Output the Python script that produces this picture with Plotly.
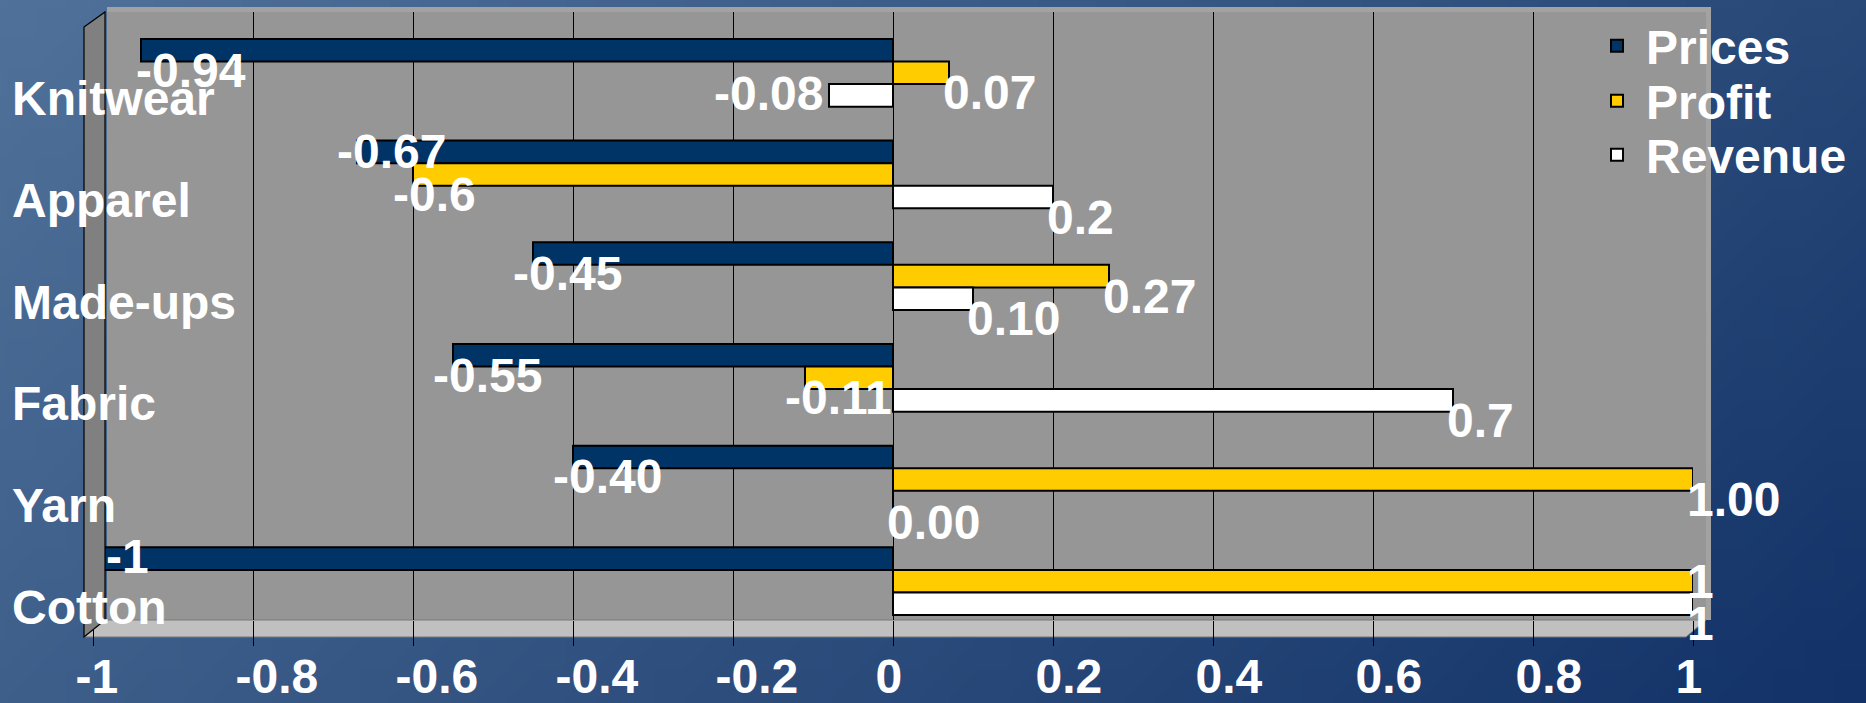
import base64
import struct
import zlib

import plotly.graph_objects as go

# ---------------- data ----------------
categories = ["Cotton", "Yarn", "Fabric", "Made-ups", "Apparel", "Knitwear"]
prices = [-1, -0.40, -0.55, -0.45, -0.67, -0.94]
profit = [1, 1.00, -0.11, 0.27, -0.6, 0.07]
revenue = [1, 0.00, 0.7, 0.10, 0.2, -0.08]
prices_labels = ["-1", "-0.40", "-0.55", "-0.45", "-0.67", "-0.94"]
profit_labels = ["1", "1.00", "-0.11", "0.27", "-0.6", "0.07"]
revenue_labels = ["1", "0.00", "0.7", "0.10", "0.2", "-0.08"]
x_tickvals = [-1, -0.8, -0.6, -0.4, -0.2, 0, 0.2, 0.4, 0.6, 0.8, 1]
x_ticktext = ["-1", "-0.8", "-0.6", "-0.4", "-0.2", "0", "0.2", "0.4", "0.6", "0.8", "1"]

# ---------------- layout geometry ----------------
W, H = 1866, 703
ML, MR, MT, MB = 93, 173, 12, 83
PW, PH = W - ML - MR, H - MT - MB
FONT = "Liberation Sans, Arial, sans-serif"
FS = 48
WHITE_BOLD = dict(family=FONT, size=FS, color="white", weight="bold")


def px(x):
    return (x - ML) / PW


def py(y):
    return (H - MB - y) / PH


# ---------------- background gradient image ----------------
def gradient_png(w, h, tl, tr, bl, br):
    rows = []
    for j in range(h):
        v = j / (h - 1)
        row = bytearray([0])
        for i in range(w):
            u = i / (w - 1)
            for c in range(3):
                top = tl[c] * (1 - u) + tr[c] * u
                bot = bl[c] * (1 - u) + br[c] * u
                row.append(int(round(top * (1 - v) + bot * v)))
        rows.append(bytes(row))
    raw = b"".join(rows)

    def chunk(t, d):
        c = struct.pack(">I", len(d)) + t + d
        return c + struct.pack(">I", zlib.crc32(t + d) & 0xFFFFFFFF)

    data = b"\x89PNG\r\n\x1a\n"
    data += chunk(b"IHDR", struct.pack(">IIBBBBB", w, h, 8, 2, 0, 0, 0))
    data += chunk(b"IDAT", zlib.compress(raw, 9))
    data += chunk(b"IEND", b"")
    return "data:image/png;base64," + base64.b64encode(data).decode()


bg = gradient_png(64, 24, (80, 113, 153), (40, 72, 120), (62, 95, 138), (18, 50, 104))

# ---------------- bars ----------------
BAR_W = 0.222
series = [
    ("Prices", prices, prices_labels, "#003366", 0.160, "legend"),
    ("Profit", profit, profit_labels, "#ffcc00", -0.062, "legend2"),
    ("Revenue", revenue, revenue_labels, "#ffffff", -0.284, "legend3"),
]

fig = go.Figure()
for name, vals, _, color, off, leg in series:
    fig.add_trace(go.Bar(
        name=name, y=categories, x=vals, orientation="h",
        width=BAR_W, offset=off, legend=leg,
        marker=dict(color=color, line=dict(color="black", width=2)),
        hoverinfo="x+y+name",
    ))

# label placement tweaks (pixel shifts), default: just past bar end, a bit lower
label_tweak = {
    ("Prices", "Knitwear"): dict(xshift=-7),
    ("Prices", "Apparel"): dict(yshift=0),
    ("Prices", "Cotton"): dict(xshift=11, yshift=2),
    ("Profit", "Cotton"): dict(yshift=0),
    ("Revenue", "Knitwear"): dict(xanchor="right", xshift=-4, yshift=2),
}

annotations = []
for name, vals, labels, _, off, _leg in series:
    for i, (cat, v, t) in enumerate(zip(categories, vals, labels)):
        a = dict(
            x=v, y=i + off + BAR_W / 2, xref="x", yref="y", text=t,
            showarrow=False, xanchor="left", yanchor="middle",
            xshift=-8 if v >= 0 else -22, yshift=-20,
            font=WHITE_BOLD,
        )
        a.update(label_tweak.get((name, cat), {}))
        annotations.append(a)

for i, cat in enumerate(categories):
    annotations.append(dict(
        x=px(10), y=i, xref="paper", yref="y", text=cat, showarrow=False,
        xanchor="left", yanchor="middle", yshift=-21,
        font=WHITE_BOLD,
    ))

# ---------------- walls / floor ----------------
def path(pts):
    return "M " + " L ".join(f"{px(a):.5f},{py(b):.5f}" for a, b in pts) + " Z"


shapes = [
    # back wall with lighter rim
    dict(type="path", xref="paper", yref="paper", layer="below",
         path=path([(107, 7), (1711, 7), (1711, 620), (107, 620)]),
         fillcolor="#a2a2a2", line=dict(width=0)),
    dict(type="path", xref="paper", yref="paper", layer="below",
         path=path([(107, 12), (1706, 12), (1706, 620), (107, 620)]),
         fillcolor="#969696", line=dict(width=0)),
    # floor
    dict(type="path", xref="paper", yref="paper", layer="below",
         path=path([(105, 620), (1706, 620), (1686, 637), (84, 637)]),
         fillcolor="#c0c0c0", line=dict(color="#7a7a7a", width=1)),
    # side wall
    dict(type="path", xref="paper", yref="paper", layer="above",
         path=path([(84, 27), (105, 12), (105, 620), (84, 637)]),
         fillcolor="#808080", line=dict(color="black", width=1.2)),
]

ITEMW = 48
LEG_X = px(1617 - ITEMW / 2 - 5)
legend_common = dict(x=LEG_X, xanchor="left", yanchor="middle",
                     bgcolor="rgba(0,0,0,0)", borderwidth=0, font=WHITE_BOLD,
                     itemwidth=ITEMW)

fig.update_layout(
    template="none",
    width=W, height=H, autosize=False,
    margin=dict(l=ML, r=MR, t=MT, b=MB, pad=0, autoexpand=False),
    paper_bgcolor="#2f5283", plot_bgcolor="rgba(0,0,0,0)",
    barmode="overlay",
    images=[dict(source=bg, xref="paper", yref="paper",
                 x=-(ML + 10) / PW, y=1 + (MT + 10) / PH,
                 sizex=(W + 20) / PW, sizey=(H + 20) / PH,
                 xanchor="left", yanchor="top", sizing="stretch", layer="below")],
    shapes=shapes,
    annotations=annotations,
    showlegend=True,
    legend=dict(legend_common, y=py(46)),
    legend2=dict(legend_common, y=py(101)),
    legend3=dict(legend_common, y=py(155)),
    xaxis=dict(range=[-1, 1], tickvals=x_tickvals, ticktext=x_ticktext,
               showgrid=True, gridcolor="black", gridwidth=1,
               zeroline=True, zerolinecolor="black", zerolinewidth=1,
               showline=False, ticks="outside", ticklen=25, tickwidth=1,
               tickcolor="black", ticklabelposition="outside right",
               ticklabelshift=-18, ticklabelstandoff=14, automargin=False,
               tickfont=WHITE_BOLD, fixedrange=True),
    yaxis=dict(type="category", categoryorder="array", categoryarray=categories,
               range=[-0.333, 5.647], visible=False, fixedrange=True,
               automargin=False),
)

fig.write_html("out.html")
